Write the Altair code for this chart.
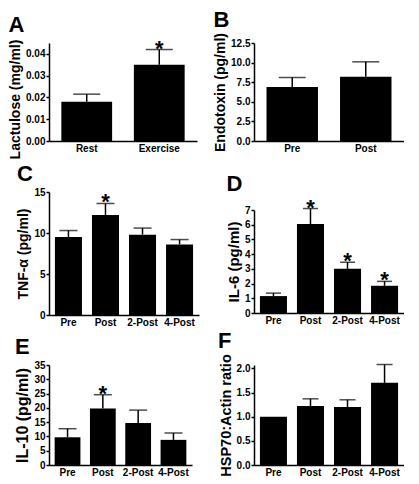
import altair as alt
import pandas as pd

FONT = "Liberation Sans"

# ---- data ----
a_cats = ["Rest", "Exercise"]
a_means = [0.018, 0.035]
a_sems = [0.0035, 0.007]
a_stars = ["", "*"]

b_cats = ["Pre", "Post"]
b_means = [6.9, 8.2]
b_sems = [1.2, 1.9]
b_stars = ["", ""]

c_cats = ["Pre", "Post", "2-Post", "4-Post"]
c_means = [9.5, 12.2, 9.8, 8.6]
c_sems = [0.8, 1.4, 0.8, 0.6]
c_stars = ["", "*", "", ""]

d_cats = ["Pre", "Post", "2-Post", "4-Post"]
d_means = [1.15, 6.05, 3.0, 1.85]
d_sems = [0.2, 1.05, 0.45, 0.3]
d_stars = ["", "*", "*", "*"]

e_cats = ["Pre", "Post", "2-Post", "4-Post"]
e_means = [9.7, 19.8, 14.7, 8.8]
e_sems = [3.0, 4.8, 4.5, 2.4]
e_stars = ["", "*", "", ""]

f_cats = ["Pre", "Post", "2-Post", "4-Post"]
f_means = [1.0, 1.22, 1.2, 1.7]
f_sems = [0.0, 0.15, 0.15, 0.38]
f_stars = ["", "", "", ""]


def panel(letter, cats, means, sems, stars, ytitle, domain, ticks, fmt,
          w, h, cap, tsize, pin, pout, title_y=None):
    df = pd.DataFrame({
        "cat": cats,
        "mean": means,
        "sem": sems,
        "upper": [m + s for m, s in zip(means, sems)],
        "star": stars,
    })
    xaxis = alt.Axis(labelAngle=0, ticks=False, domainColor="black",
                     domainWidth=1.5, labelFont=FONT,
                     labelFontWeight="bold", labelFontSize=10,
                     labelColor="black", labelPadding=2)
    xscale = alt.Scale(paddingInner=pin, paddingOuter=pout)

    def xenc():
        return alt.X("cat:N", sort=cats, title=None, scale=xscale, axis=xaxis)

    yscale = alt.Scale(domain=domain, nice=False, zero=True)
    ykw = dict(values=ticks, format=fmt, grid=False, domainColor="black",
               domainWidth=1.5, tickColor="black", tickWidth=1.5,
               tickSize=3, labelFont=FONT, labelFontWeight="bold",
               labelFontSize=10, labelColor="black", labelPadding=1,
               labelOverlap=False, labelFlush=False, labelBound=False,
               titleFont=FONT, titleFontSize=tsize, titleFontWeight="bold",
               titleColor="black", titlePadding=3)
    if title_y is not None:
        ykw["titleY"] = title_y
    yaxis = alt.Axis(**ykw)

    def yenc(field):
        return alt.Y(field, scale=yscale, title=ytitle, axis=yaxis)

    base = alt.Chart(df)
    bars = base.mark_bar(color="black").encode(x=xenc(), y=yenc("mean:Q"))
    err = base.transform_filter("datum.sem > 0").mark_rule(
        color="black", strokeWidth=1.5).encode(
        x=xenc(), y=yenc("mean:Q"), y2="upper:Q")
    caps = base.transform_filter("datum.sem > 0").mark_tick(
        color="black", thickness=1.5, size=cap).encode(
        x=xenc(), y=yenc("upper:Q"))
    star = base.transform_filter("datum.star != ''").mark_text(
        fontSize=22, fontWeight="bold", font=FONT, dy=6, baseline="alphabetic",
        color="black").encode(
        x=xenc(), y=yenc("upper:Q"), text="star:N")
    return alt.layer(bars, err, caps, star).properties(
        width=w, height=h,
        title=alt.TitleParams(letter, anchor="start", frame="bounds",
                              fontSize=22, fontWeight="bold", font=FONT,
                              color="black", offset=1))


pa = panel("A", a_cats, a_means, a_sems, a_stars, "Lactulose (mg/ml)",
           [0, 0.045], [0, 0.01, 0.02, 0.03, 0.04], ".2f",
           148, 98, 27, 14, 0.3, 0.17, title_y=56)
pb = panel("B", b_cats, b_means, b_sems, b_stars, "Endotoxin (pg/ml)",
           [0, 12.5], [0, 2.5, 5, 7.5, 10, 12.5], ".1f",
           150, 98, 27, 14, 0.3, 0.17)
pc = panel("C", c_cats, c_means, c_sems, c_stars, "TNF-α (pg/ml)",
           [0, 15], [0, 5, 10, 15], "d",
           150, 123, 18, 14, 0.27, 0.16)
pd_ = panel("D", d_cats, d_means, d_sems, d_stars, "IL-6 (pg/ml)",
            [0, 7], [0, 1, 2, 3, 4, 5, 6, 7], "d",
            150, 103, 15, 15, 0.27, 0.16)
pe = panel("E", e_cats, e_means, e_sems, e_stars, "IL-10 (pg/ml)",
           [0, 35], [0, 5, 10, 15, 20, 25, 30, 35], "d",
           143, 100, 18, 16, 0.27, 0.16)
pf = panel("F", f_cats, f_means, f_sems, f_stars, "HSP70:Actin ratio",
           [0, 2.07], [0, 0.5, 1.0, 1.5, 2.0], ".1f",
           150, 100, 16, 14.5, 0.27, 0.16)

left = alt.vconcat(pa, alt.vconcat(pc, pe, spacing=9), spacing=4)
right = alt.vconcat(pb, alt.vconcat(pd_, pf, spacing=4), spacing=19)
chart = alt.hconcat(left, right, spacing=14).properties(padding=0).configure_view(
    stroke=None).configure_axis(labelOverlap=False)

chart.save("out.html", embed_options={"renderer": "svg", "actions": False})
